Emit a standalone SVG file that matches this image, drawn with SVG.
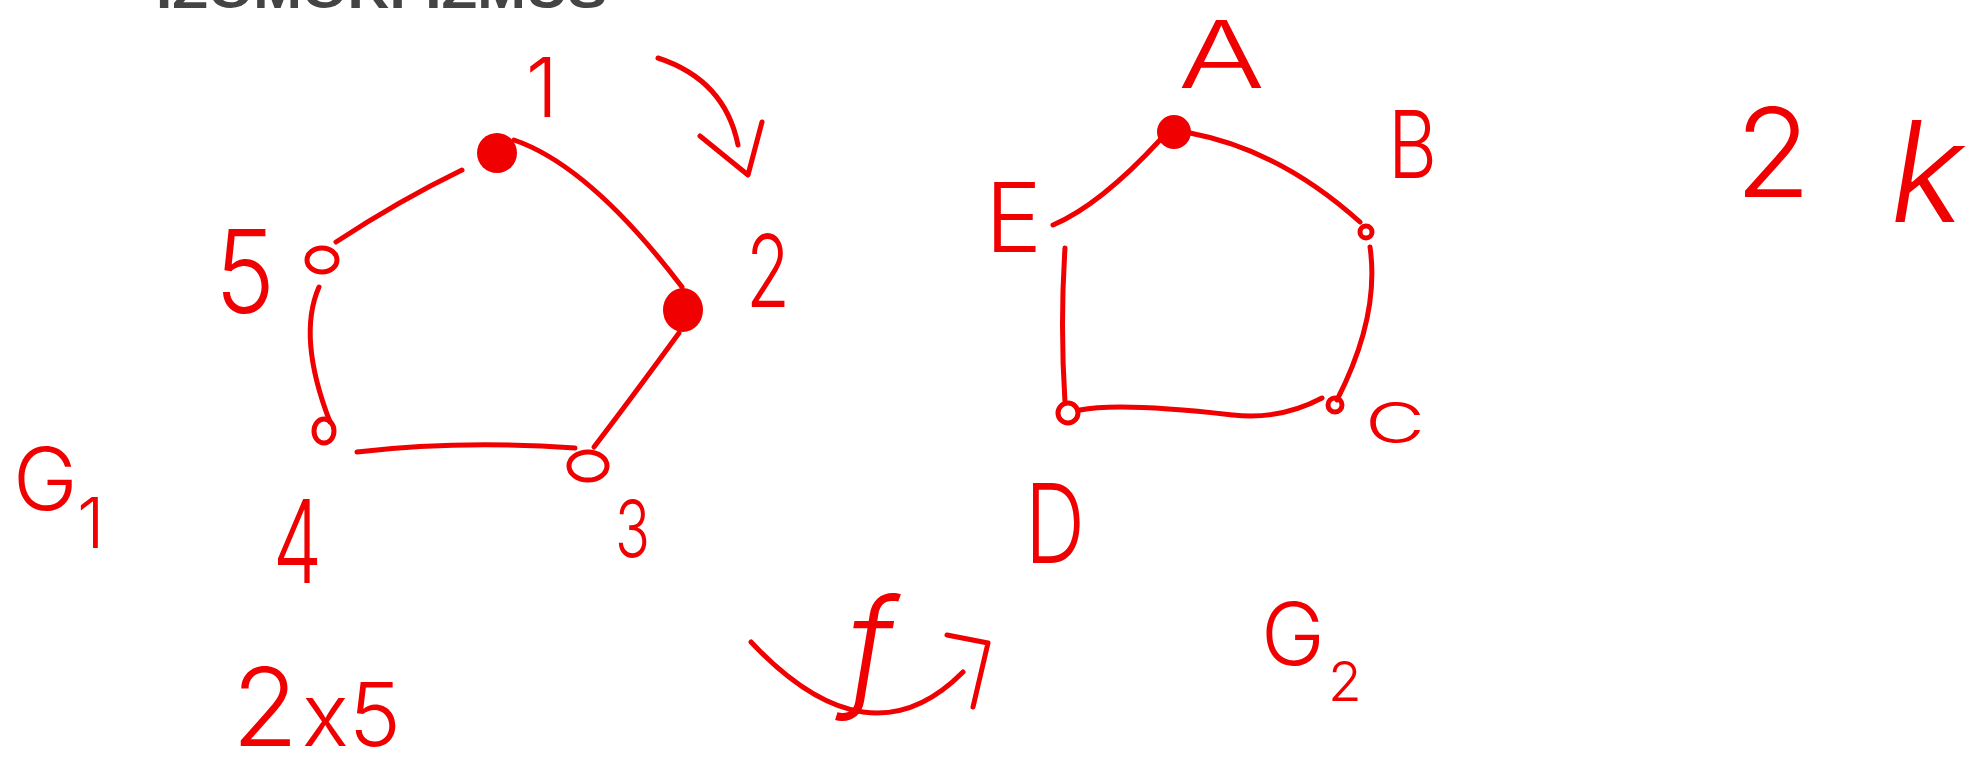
<svg xmlns="http://www.w3.org/2000/svg" width="1972" height="774" viewBox="0 0 1972 774">
<style>
.ln{fill:none;stroke:#f00000;stroke-width:5;stroke-linecap:round;stroke-linejoin:round}
.dot{fill:#f00000}
.open{fill:none;stroke:#f00000;stroke-width:5}
.hw{font-family:Inter,"Liberation Sans",sans-serif;font-weight:300;fill:#f00000}
.title{font-family:"Liberation Sans",Arial,sans-serif;font-weight:bold;fill:#444}
</style>
<rect width="1972" height="774" fill="#ffffff"/>
<text class="title" x="156" y="8" font-size="50" textLength="451" lengthAdjust="spacingAndGlyphs">IZOMORFIZMUS</text>
<g id="connectors">
<path class="ln" d="M462,170 Q400,200 336,242"/>
<path class="ln" d="M514,140 Q590,166 682,287"/>
<path class="ln" d="M679,333 Q630,400 594,447"/>
<path class="ln" d="M575,448 Q460,440 357,452"/>
<path class="ln" d="M319,287 Q297,337 330,422"/>
<path class="ln" d="M658,58 Q725,80 738,145"/>
<path class="ln" d="M700,136 L748,175 L762,122"/>
<path class="ln" d="M1160,140 Q1100,205 1053,225"/>
<path class="ln" d="M1190,133 Q1280,150 1360,222"/>
<path class="ln" d="M1370,247 Q1380,316 1337,400"/>
<path class="ln" d="M1322,398 C1290,415 1260,418 1233,415 S1120,402 1080,410"/>
<path class="ln" d="M1065,248 Q1060,325 1065,402"/>
<path class="ln" d="M751,642 Q869,767 963,672"/>
<path class="ln" d="M947,635 L988,643 L973,707"/>
</g>
<g id="n1"><circle class="dot" cx="497" cy="153" r="20"/><text class="hw" x="542" y="117" font-size="82" text-anchor="middle">1</text></g>
<g id="n2"><ellipse class="dot" cx="683" cy="310" rx="20" ry="22"/><text class="hw" x="746" y="307" font-size="100" textLength="44" lengthAdjust="spacingAndGlyphs">2</text></g>
<g id="n3"><ellipse class="open" cx="588" cy="466" rx="19" ry="14"/><text class="hw" x="615" y="557" font-size="78" textLength="35" lengthAdjust="spacingAndGlyphs">3</text></g>
<g id="n4"><ellipse class="open" cx="324" cy="431" rx="10" ry="12"/><text class="hw" x="273" y="583" font-size="115" textLength="49" lengthAdjust="spacingAndGlyphs">4</text></g>
<g id="n5"><ellipse class="open" cx="322" cy="260" rx="15" ry="12"/><text class="hw" x="215" y="313" font-size="115" textLength="60" lengthAdjust="spacingAndGlyphs">5</text></g>
<g id="nA"><circle class="dot" cx="1174" cy="132" r="17"/><text class="hw" x="1178" y="88" font-size="94" textLength="87" lengthAdjust="spacingAndGlyphs">A</text></g>
<g id="nB"><circle class="open" cx="1366" cy="232" r="6"/><text class="hw" x="1388" y="178" font-size="94" textLength="49" lengthAdjust="spacingAndGlyphs">B</text></g>
<g id="nC"><circle class="open" cx="1335" cy="405" r="7"/><text class="hw" x="1365" y="443" font-size="56" textLength="60" lengthAdjust="spacingAndGlyphs">C</text></g>
<g id="nD"><circle class="open" cx="1068" cy="413" r="10"/><text class="hw" x="1025" y="563" font-size="110" textLength="60" lengthAdjust="spacingAndGlyphs">D</text></g>
<g id="nE"><text class="hw" x="985" y="252" font-size="96" textLength="57" lengthAdjust="spacingAndGlyphs">E</text></g>
<g id="labels">
<text class="hw" x="13" y="510" font-size="87">G<tspan x="77" y="548" font-size="70">1</tspan></text>
<text class="hw" x="1261" y="665" font-size="86">G<tspan x="1328" y="701" font-size="55">2</tspan></text>
<text class="hw" x="870" y="692" font-size="130" text-anchor="middle" font-style="italic">f</text>
<text class="hw" x="1735" y="197" font-size="124">2<tspan x="1890" y="222" font-style="italic" font-size="140">k</tspan></text>
<text class="hw" x="232" y="746" font-size="108">2<tspan x="302" font-size="88">x5</tspan></text>
</g>
</svg>
